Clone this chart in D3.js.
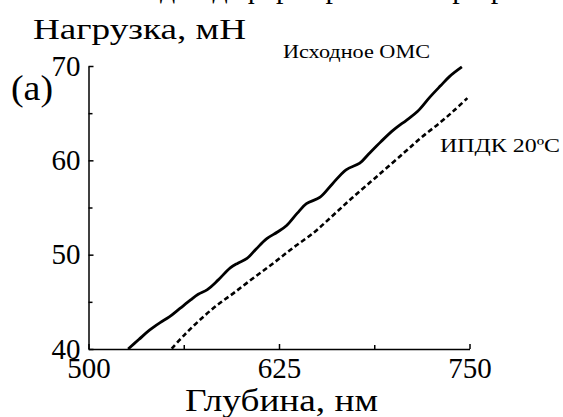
<!DOCTYPE html>
<html>
<head>
<meta charset="utf-8">
<script src="https://cdn.jsdelivr.net/npm/d3@7"></script>
<style>
  body { margin: 0; background: #fff; }
</style>
</head>
<body>
<script>
// depth (nm) vs load (mN)
const depthOMS = [526, 533, 540, 547, 553, 560, 567, 572, 578, 585, 593, 598, 604, 610, 617, 624, 630, 637, 643, 652, 660, 669, 678, 684, 692, 700, 709, 716, 724, 731, 737, 745]
const loadOMS = [40, 41.0, 42.0, 42.8, 43.4, 44.3, 45.2, 45.8, 46.3, 47.3, 48.6, 49.1, 49.6, 50.6, 51.7, 52.4, 53.1, 54.4, 55.4, 56.1, 57.5, 59.0, 59.7, 60.7, 62.0, 63.2, 64.3, 65.2, 66.7, 67.9, 68.9, 69.9]

const depthHPT = [554.6, 563, 573.2, 584, 595, 608, 621.3, 634, 647.5, 660, 672.9, 690, 707.7, 719, 730.7, 740, 748.6]
const loadHPT = [40.05, 41.5, 43.1, 44.6, 45.9, 47.5, 49.1, 50.7, 52.3, 54.1, 56.0, 58.4, 60.9, 62.5, 64.0, 65.3, 66.6]

const xTicks = [500, 625, 750]
const xMinor = [562.5, 687.5]
const yTicks = [40, 50, 60, 70]
const yMinor = [45, 55, 65]

const labelOMS = "Исходное ОМС"
const labelHPT = "ИПДК 20ºC"

const serif = "'Liberation Serif', 'Times New Roman', Times, 'DejaVu Serif', serif"

const width = 563
const height = 417

const svg = d3.select("body")
    .append("svg")
    .attr("width", width)
    .attr("height", height)
    .attr("font-family", serif)

const x = d3.scaleLinear()
    .domain([500, 750])
    .range([88.5, 469.5])

const y = d3.scaleLinear()
    .domain([40, 70])
    .range([349, 66])

// cut-off caption line above the chart, only the descenders show
svg.append("text")
    .attr("x", 160)
    .attr("y", -2)
    .attr("font-size", 30)
    .text("дня деформирования при разных дефорр")

// axes, ticks point inward
const ejeX = d3.axisBottom(x)
    .tickValues(xTicks)
    .tickSizeInner(-5)
    .tickSizeOuter(0)
    .tickPadding(8)
    .tickFormat(d3.format("d"))

const gx = svg.append("g")
    .attr("transform", "translate(0," + y(40) + ")")
    .call(ejeX)

svg.append("g")
    .attr("transform", "translate(0," + y(40) + ")")
    .call(d3.axisBottom(x).tickValues(xMinor).tickSizeInner(-4).tickSizeOuter(0).tickFormat(""))
    .select(".domain").remove()

const ejeY = d3.axisLeft(y)
    .tickValues(yTicks)
    .tickSizeInner(-5)
    .tickSizeOuter(0)
    .tickPadding(8)

const gy = svg.append("g")
    .attr("transform", "translate(" + x(500) + ",0)")
    .call(ejeY)

svg.append("g")
    .attr("transform", "translate(" + x(500) + ",0)")
    .call(d3.axisLeft(y).tickValues(yMinor).tickSizeInner(-4).tickSizeOuter(0).tickFormat(""))
    .select(".domain").remove()

svg.selectAll("g").attr("font-family", serif)

svg.selectAll(".domain, .tick line")
    .attr("stroke", "#000")
    .attr("stroke-width", 1.5)

gx.selectAll("text").attr("font-size", 29).attr("fill", "#000")
gy.selectAll("text").attr("font-size", 29).attr("fill", "#000")

// curves
const line = d3.line()
    .x(d => x(d[0]))
    .y(d => y(d[1]))
    .curve(d3.curveCatmullRom)

svg.append("path")
    .attr("d", line(d3.zip(depthOMS, loadOMS)))
    .attr("fill", "none")
    .attr("stroke", "#000")
    .attr("stroke-width", 2.8)

svg.append("path")
    .attr("d", line(d3.zip(depthHPT, loadHPT)))
    .attr("fill", "none")
    .attr("stroke", "#000")
    .attr("stroke-width", 2.6)
    .attr("stroke-dasharray", "5,3")

// labels (the original face is wider, so stretch to the measured widths)
function label(px, py, size, len, str) {
    svg.append("text")
        .attr("x", px)
        .attr("y", py)
        .attr("font-size", size)
        .attr("textLength", len)
        .attr("lengthAdjust", "spacingAndGlyphs")
        .text(str)
}

label(33, 39, 30, 213, "Нагрузка, мН")
label(11, 100, 35, 42, "(a)")
label(185, 411, 32, 193, "Глубина, нм")
label(283, 58, 19.5, 147, labelOMS)
label(440, 152, 19.5, 120, labelHPT)
</script>
</body>
</html>
